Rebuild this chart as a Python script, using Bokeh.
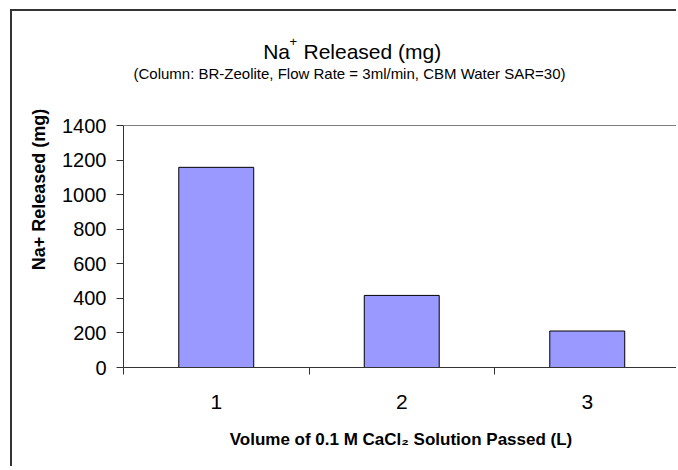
from bokeh.plotting import figure
from bokeh.models import (ColumnDataSource, FixedTicker, LinearAxis, Label,
                          Span, Range1d, CustomJSTickFormatter)
from bokeh.embed import file_html
from bokeh.resources import INLINE

# ---- data ----
volume_labels = ["1", "2", "3"]
volume_pos = [1, 2, 3]
na_released = [1158, 417, 211]
y_ticks = [0, 200, 400, 600, 800, 1000, 1200, 1400]
category_edges = [0.5, 1.5, 2.5, 3.5]
y_max = 1400

FONT = "Liberation Sans"

# ---- geometry (window pixels) ----
OX, OY = 12, 11            # canvas origin inside window (after margin + border)
CW, CH = 666, 457
AX_L, AX_T, AX_B = 123, 125, 367     # axis rectangle in window pixels
CAT_W = 185.5                         # pixel width of one category

FL = AX_L - OX             # frame left in canvas px
FB = AX_B - OY             # frame bottom in canvas px
X0 = 0.5
X1 = X0 + (CW - FL) / CAT_W
PX_PER_Y = (AX_B - AX_T) / y_max
Y0 = 0
Y1 = FB / PX_PER_Y         # frame reaches to top of canvas


def wx(px):
    """window x pixel -> data x"""
    return X0 + (px - AX_L) / CAT_W


def wy(py):
    """window y pixel -> data y"""
    return (AX_B - py) / PX_PER_Y


p = figure(width=CW, height=CH, output_backend="svg", toolbar_location=None,
           title=None, x_range=Range1d(X0, X1), y_range=Range1d(Y0, Y1),
           min_border_left=int(FL), min_border_top=0, min_border_right=0,
           min_border_bottom=int(CH - FB), x_axis_type=None, y_axis_type=None)
p.margin = (OY - 2, 0, 0, OX - 2)
p.styles = {"border-style": "solid none none solid",
            "border-width": "2px 0px 0px 2px",
            "border-color": "#333333"}
p.outline_line_color = None
p.xgrid.visible = False
p.ygrid.visible = False
p.background_fill_color = "white"
p.border_fill_color = "white"

src = ColumnDataSource(dict(x=volume_pos, top=na_released))
p.vbar(x="x", top="top", width=0.404, source=src,
       fill_color="#9999FF", line_color="#000000", line_width=1)

# top edge of plot area
p.add_layout(Span(location=y_max, dimension="width", line_color="#808080", line_width=1))

# y axis
yax = LinearAxis(ticker=FixedTicker(ticks=y_ticks), bounds=(0, y_max))
yax.axis_line_color = "#333333"
yax.major_tick_line_color = "#333333"
yax.major_tick_in = 0
yax.major_tick_out = 7
yax.minor_tick_line_color = None
yax.major_label_text_font = FONT
yax.major_label_text_font_size = "20px"
yax.major_label_text_color = "#000000"
yax.major_label_standoff = 10
yax.axis_label = "Na+ Released (mg)"
yax.axis_label_text_font = FONT
yax.axis_label_text_font_size = "18px"
yax.axis_label_text_font_style = "bold"
yax.axis_label_text_color = "#000000"
yax.axis_label_standoff = 10
p.add_layout(yax, "left")

# x axis: labels at centres, ticks at category boundaries
xax = LinearAxis(ticker=FixedTicker(ticks=volume_pos, minor_ticks=category_edges))
xax.formatter = CustomJSTickFormatter(args=dict(labels=volume_labels),
                                      code="return labels[Math.round(tick)-1];")
xax.axis_line_color = "#333333"
xax.major_tick_line_color = None
xax.major_tick_in = 0
xax.major_tick_out = 0
xax.minor_tick_line_color = "#333333"
xax.minor_tick_in = 0
xax.minor_tick_out = 7
xax.major_label_text_font = FONT
xax.major_label_text_font_size = "21px"
xax.major_label_text_color = "#000000"
xax.major_label_standoff = 20
xax.axis_label = "Volume of 0.1 M CaCl\u2082 Solution Passed (L)"
xax.axis_label_text_font = FONT
xax.axis_label_text_font_size = "17px"
xax.axis_label_text_font_style = "bold"
xax.axis_label_text_color = "#000000"
xax.axis_label_standoff = 18
p.add_layout(xax, "below")

# chart title (with superscript) and subtitle
title_parts = [("Na", 262.7, 50.7, "21px"), ("+", 289.0, 41.0, "13px"),
               ("Released (mg)", 303.0, 50.7, "21px")]
for txt, px, py, fs in title_parts:
    p.add_layout(Label(x=wx(px), y=wy(py), text=txt, text_font=FONT,
                       text_font_size=fs, text_align="left",
                       text_baseline="alphabetic", text_color="#000000"))
p.add_layout(Label(x=wx(349), y=wy(72.7),
                   text="(Column: BR-Zeolite, Flow Rate = 3ml/min, CBM Water SAR=30)",
                   text_font=FONT, text_font_size="15px", text_align="center",
                   text_baseline="alphabetic", text_color="#000000"))

html = file_html(p, INLINE)
html = html.replace("<head>", "<head><style>html,body{margin:0;padding:0;overflow:hidden;}</style>", 1)
open("out.html", "w").write(html)
